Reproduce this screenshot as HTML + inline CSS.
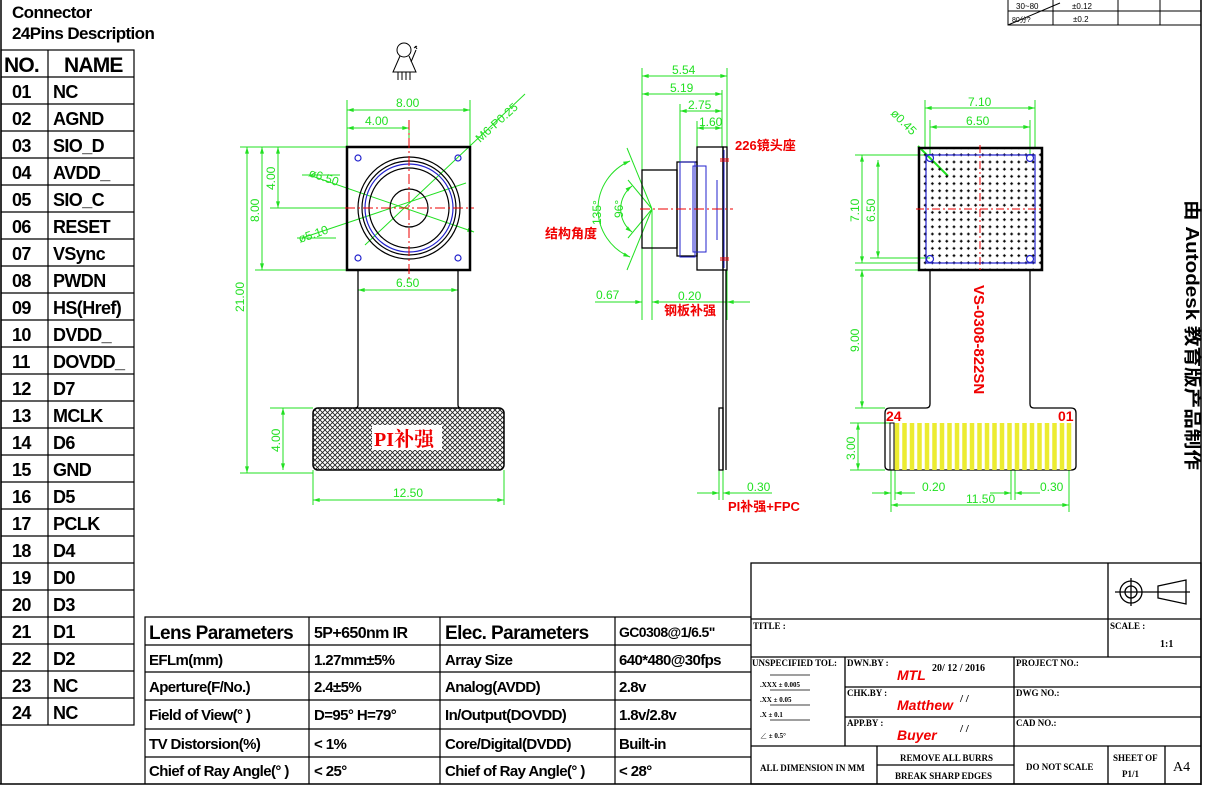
<!DOCTYPE html>
<html><head><meta charset="utf-8"><style>
html,body{margin:0;padding:0;background:#fff;}
svg{display:block;}
.t{font-family:"Liberation Sans","Noto Sans CJK SC",sans-serif;font-weight:bold;fill:#000;}
.g{font-family:"Liberation Sans",sans-serif;fill:#22e022;font-size:12px;}
.r{font-family:"Liberation Sans","Noto Sans CJK SC",sans-serif;font-weight:bold;fill:#f00000;}
.s{font-family:"Liberation Serif","Noto Serif CJK SC",serif;fill:#000;font-weight:bold;}
</style></head><body>
<svg width="1207" height="793" viewBox="0 0 1207 793" xmlns="http://www.w3.org/2000/svg">
<defs>
<marker id="a" viewBox="0 0 10 6" refX="10" refY="3" markerWidth="10" markerHeight="4" orient="auto-start-reverse"><path d="M0,0 L10,3 L0,6 z" fill="#22e022"/></marker>
<pattern id="dots" width="7.2" height="7.2" patternUnits="userSpaceOnUse"><path d="M3.6,2.2V5 M2.2,3.6H5" stroke="#000" stroke-width="1.1"/></pattern>
<pattern id="hatch" width="5" height="5" patternUnits="userSpaceOnUse"><path d="M0,0 L5,5 M5,0 L0,5" stroke="#222" stroke-width="0.9"/></pattern>
</defs>

<line x1="1201" y1="0" x2="1201" y2="785" stroke="#000" stroke-width="1.5"/>
<line x1="0" y1="784" x2="1201" y2="784" stroke="#000" stroke-width="1.5"/>
<line x1="1" y1="0" x2="1" y2="784" stroke="#000" stroke-width="1.5"/>

<g stroke="#000" stroke-width="1" fill="none">
<path d="M1008,0 V25 H1201 M1008,11 H1201 M1053,0 V25 M1118,0 V25 M1160,0 V25"/>
<line x1="1008" y1="25" x2="1060" y2="3"/>
</g>
<text x="1016" y="9" style="font:8px 'Liberation Sans',sans-serif">30~80</text>
<text x="1072" y="9" style="font:8px 'Liberation Sans',sans-serif">±0.12</text>
<text x="1012" y="22" style="font:7px 'Liberation Sans',sans-serif">80分?</text>
<text x="1073" y="22" style="font:8px 'Liberation Sans',sans-serif">±0.2</text>

<text class="t" x="12" y="18" font-size="17" letter-spacing="-0.6">Connector</text>
<text class="t" x="12" y="39" font-size="17" letter-spacing="-0.6">24Pins Description</text>
<g stroke="#000" stroke-width="1.2" fill="none">
<rect x="1" y="50" width="133" height="675"/>
<line x1="48" y1="50" x2="48" y2="725"/>
<path d="M1,77H134 M1,104H134 M1,131H134 M1,158H134 M1,185H134 M1,212H134 M1,239H134 M1,266H134 M1,293H134 M1,320H134 M1,347H134 M1,374H134 M1,401H134 M1,428H134 M1,455H134 M1,482H134 M1,509H134 M1,536H134 M1,563H134 M1,590H134 M1,617H134 M1,644H134 M1,671H134 M1,698H134"/>
</g>
<text class="t" x="4" y="72" font-size="21" letter-spacing="-0.8">NO.</text>
<text class="t" x="64" y="72" font-size="21" letter-spacing="-0.8">NAME</text>
<g class="t" font-size="18" letter-spacing="-0.6">
<text x="12" y="98">01</text><text x="53" y="98">NC</text>
<text x="12" y="125">02</text><text x="53" y="125">AGND</text>
<text x="12" y="152">03</text><text x="53" y="152">SIO_D</text>
<text x="12" y="179">04</text><text x="53" y="179">AVDD_</text>
<text x="12" y="206">05</text><text x="53" y="206">SIO_C</text>
<text x="12" y="233">06</text><text x="53" y="233">RESET</text>
<text x="12" y="260">07</text><text x="53" y="260">VSync</text>
<text x="12" y="287">08</text><text x="53" y="287">PWDN</text>
<text x="12" y="314">09</text><text x="53" y="314">HS(Href)</text>
<text x="12" y="341">10</text><text x="53" y="341">DVDD_</text>
<text x="12" y="368">11</text><text x="53" y="368">DOVDD_</text>
<text x="12" y="395">12</text><text x="53" y="395">D7</text>
<text x="12" y="422">13</text><text x="53" y="422">MCLK</text>
<text x="12" y="449">14</text><text x="53" y="449">D6</text>
<text x="12" y="476">15</text><text x="53" y="476">GND</text>
<text x="12" y="503">16</text><text x="53" y="503">D5</text>
<text x="12" y="530">17</text><text x="53" y="530">PCLK</text>
<text x="12" y="557">18</text><text x="53" y="557">D4</text>
<text x="12" y="584">19</text><text x="53" y="584">D0</text>
<text x="12" y="611">20</text><text x="53" y="611">D3</text>
<text x="12" y="638">21</text><text x="53" y="638">D1</text>
<text x="12" y="665">22</text><text x="53" y="665">D2</text>
<text x="12" y="692">23</text><text x="53" y="692">NC</text>
<text x="12" y="719">24</text><text x="53" y="719">NC</text>
</g>

<g stroke="#000" stroke-width="1.2" fill="none">
<path d="M145,784 V617 H751 M145,645H751 M145,672H751 M145,700H751 M145,729H751 M145,757H751 M309,617V784 M440,617V784 M615,617V784"/>
</g>
<g class="t" letter-spacing="-0.6">
<text x="149" y="639" font-size="19">Lens Parameters</text>
<text x="314" y="638" font-size="16">5P+650nm IR</text>
<text x="445" y="639" font-size="19">Elec. Parameters</text>
<text x="619" y="637" font-size="14">GC0308@1/6.5"</text>
<g font-size="15">
<text x="149" y="665">EFLm(mm)</text><text x="314" y="665">1.27mm±5%</text><text x="445" y="665">Array Size</text><text x="619" y="665">640*480@30fps</text>
<text x="149" y="692">Aperture(F/No.)</text><text x="314" y="692">2.4±5%</text><text x="445" y="692">Analog(AVDD)</text><text x="619" y="692">2.8v</text>
<text x="149" y="720">Field of View(° )</text><text x="314" y="720">D=95° H=79°</text><text x="445" y="720">In/Output(DOVDD)</text><text x="619" y="720">1.8v/2.8v</text>
<text x="149" y="749">TV Distorsion(%)</text><text x="314" y="749">&lt; 1%</text><text x="445" y="749">Core/Digital(DVDD)</text><text x="619" y="749">Built-in</text>
<text x="149" y="776">Chief of Ray Angle(° )</text><text x="314" y="776">&lt; 25°</text><text x="445" y="776">Chief of Ray Angle(° )</text><text x="619" y="776">&lt; 28°</text>
</g></g>

<g stroke="#000" stroke-width="1.3" fill="none">
<rect x="751" y="563" width="450" height="221"/>
<path d="M751,619H1201 M751,657H1201 M1108,563V657 M751,746H1201 M845,657V746 M1014,657V784 M845,687H1201 M845,717H1201 M877,746V784 M877,765H1014 M1108,746V784 M1165,746V784"/>
<path d="M770,675H810 M770,690H810 M770,705H810 M770,720H810" stroke-width="0.8"/>
<circle cx="1131" cy="592" r="11"/><circle cx="1131" cy="592" r="6"/>
<path d="M1115,592H1190 M1131,578V606 M1158,586 L1186,580 V604 L1158,598 Z"/>
</g>
<g class="s" font-size="9">
<text x="753" y="629">TITLE :</text>
<text x="1110" y="629">SCALE :</text>
<text x="1160" y="647" font-size="10">1:1</text>
<text x="752" y="666">UNSPECIFIED  TOL:</text>
<text x="847" y="666">DWN.BY :</text>
<text x="1016" y="666">PROJECT NO.:</text>
<text x="847" y="696">CHK.BY :</text>
<text x="1016" y="696">DWG  NO.:</text>
<text x="847" y="726">APP.BY :</text>
<text x="1016" y="726">CAD  NO.:</text>
<text x="760" y="687" font-size="7">.XXX  ±   0.005</text>
<text x="760" y="702" font-size="7">.XX   ±   0.05</text>
<text x="760" y="717" font-size="7">.X    ±   0.1</text>
<text x="760" y="738" font-size="7">∠    ±   0.5°</text>
<text x="932" y="671" font-size="10">20/ 12 / 2016</text>
<text x="960" y="702" font-size="11">/   /</text>
<text x="960" y="732" font-size="11">/   /</text>
<text x="760" y="771">ALL DIMENSION IN MM</text>
<text x="900" y="761">REMOVE ALL BURRS</text>
<text x="895" y="779">BREAK SHARP EDGES</text>
<text x="1026" y="770">DO NOT SCALE</text>
<text x="1113" y="761">SHEET OF</text>
<text x="1122" y="777">P1/1</text>
<text x="1173" y="771" font-size="14" font-weight="normal">A4</text>
</g>
<g class="r" font-style="italic" font-size="14">
<text x="897" y="680">MTL</text>
<text x="897" y="710">Matthew</text>
<text x="897" y="740">Buyer</text>
</g>

<text class="t" font-size="18" textLength="270" lengthAdjust="spacingAndGlyphs" transform="translate(1186,200) rotate(90)">由 Autodesk 教育版产品制作</text>

<g stroke="#000" fill="none" stroke-width="1">
<circle cx="404" cy="50" r="7"/>
<path d="M400,56 L393,72 H416 L409,56 M398,72V80 M402,72V80 M406,72V80 M410,72V80 M411,62 L416,50 M414,48 l3,-2 M417,49 l-2,-3"/>
</g>

<!-- FRONT VIEW -->
<g stroke="#22e022" stroke-width="1" fill="none">
<path d="M347,147V100 M470,147V100 M409,128V147"/>
<line x1="347" y1="110" x2="470" y2="110" marker-start="url(#a)" marker-end="url(#a)"/>
<line x1="347" y1="128" x2="409" y2="128" marker-start="url(#a)" marker-end="url(#a)"/>
<path d="M240,147H347 M255,270H347 M270,208H347 M240,473H313"/>
<line x1="247" y1="147" x2="247" y2="473" marker-start="url(#a)" marker-end="url(#a)"/>
<line x1="262" y1="147" x2="262" y2="270" marker-start="url(#a)" marker-end="url(#a)"/>
<line x1="278" y1="147" x2="278" y2="208" marker-start="url(#a)" marker-end="url(#a)"/>
<path d="M358,270V300 M458,270V300"/>
<line x1="358" y1="290" x2="458" y2="290" marker-start="url(#a)" marker-end="url(#a)"/>
<path d="M270,408H313"/>
<line x1="283" y1="408" x2="283" y2="470" marker-start="url(#a)" marker-end="url(#a)"/>
<path d="M313,470V505 M504,470V505"/>
<line x1="313" y1="500" x2="504" y2="500" marker-start="url(#a)" marker-end="url(#a)"/>
<line x1="309" y1="175" x2="474" y2="232" marker-end="url(#a)"/>
<line x1="302" y1="238" x2="466" y2="183"/>
<line x1="365" y1="245" x2="525" y2="94"/>
<path d="M302,175H340 M297,238H336"/>
</g>
<g class="g">
<text x="396" y="107">8.00</text>
<text x="365" y="125">4.00</text>
<text x="396" y="287">6.50</text>
<text x="393" y="497">12.50</text>
<text transform="translate(244,312) rotate(-90)">21.00</text>
<text transform="translate(259,222) rotate(-90)">8.00</text>
<text transform="translate(275,190) rotate(-90)">4.00</text>
<text transform="translate(280,452) rotate(-90)">4.00</text>
<text transform="translate(308,176) rotate(19)">ø6.50</text>
<text transform="translate(300,243) rotate(-19)">ø5.10</text>
<text transform="translate(480,143) rotate(-42)">M6-P0.25</text>
</g>
<rect x="347" y="147" width="123" height="123" fill="none" stroke="#000" stroke-width="2.5"/>
<g fill="none" stroke="#000" stroke-width="1.2">
<circle cx="409" cy="208" r="51"/><circle cx="409" cy="208" r="47"/><circle cx="409" cy="208" r="40"/><circle cx="409" cy="208" r="19"/>
</g>
<g fill="none" stroke="#2222cc" stroke-width="1.2">
<circle cx="409" cy="208" r="44"/>
<circle cx="358" cy="158" r="3"/><circle cx="458" cy="158" r="3"/><circle cx="358" cy="258" r="3"/><circle cx="458" cy="258" r="3"/>
</g>
<g stroke="#e00" stroke-width="1" stroke-dasharray="10,3,2,3"><path d="M345,208H474 M409,120V282"/></g>
<path d="M358,270V405 Q358,408 355,408 M458,270V405 Q458,408 461,408" fill="none" stroke="#000" stroke-width="1.3"/>
<rect x="313" y="408" width="191" height="62" rx="5" fill="url(#hatch)" stroke="#000" stroke-width="1.5"/>
<rect x="372" y="425" width="70" height="25" fill="#fff"/>
<text x="374" y="446" font-family="'Liberation Serif','Noto Serif CJK SC',serif" font-weight="bold" font-size="20" fill="#f00000">PI补强</text>

<!-- SIDE VIEW -->
<g stroke="#22e022" stroke-width="1" fill="none">
<path d="M642,68V320 M727,68V320 M722,90V147 M680,104V163 M697,121V147 M652,209V320 M719,470V500 M723,470V500"/>
<line x1="642" y1="76" x2="727" y2="76" marker-start="url(#a)" marker-end="url(#a)"/>
<line x1="642" y1="94" x2="722" y2="94" marker-start="url(#a)" marker-end="url(#a)"/>
<line x1="680" y1="111" x2="722" y2="111" marker-start="url(#a)" marker-end="url(#a)"/>
<line x1="697" y1="128" x2="722" y2="128" marker-start="url(#a)" marker-end="url(#a)"/>
<line x1="595" y1="302" x2="642" y2="302" marker-end="url(#a)"/>
<line x1="680" y1="302" x2="652" y2="302" marker-end="url(#a)"/>
<line x1="652" y1="302" x2="727" y2="302"/>
<line x1="750" y1="302" x2="727" y2="302" marker-end="url(#a)"/>
<line x1="697" y1="493" x2="719" y2="493" marker-end="url(#a)"/>
<line x1="772" y1="493" x2="723" y2="493" marker-end="url(#a)"/>
<path d="M652,209 L627,148 M652,209 L627,270 M652,209 L628,180 M652,209 L628,238"/>
<path d="M630,161 A52,52 0 0 0 630,257" marker-start="url(#a)" marker-end="url(#a)"/>
<path d="M632,186 A29,29 0 0 0 632,232" marker-start="url(#a)" marker-end="url(#a)"/>
</g>
<g class="g">
<text x="672" y="74">5.54</text>
<text x="670" y="92">5.19</text>
<text x="688" y="109">2.75</text>
<text x="699" y="126">1.60</text>
<text x="596" y="299">0.67</text>
<text x="678" y="300">0.20</text>
<text x="747" y="491">0.30</text>
<text transform="translate(601,225) rotate(-90)">135°</text>
<text transform="translate(623,218) rotate(-90)">96°</text>
</g>
<g fill="none" stroke="#000" stroke-width="1.3">
<rect x="642" y="170" width="35" height="78"/>
<rect x="677" y="162" width="20" height="94"/>
<rect x="697" y="147" width="26" height="123"/>
<rect x="723" y="147" width="4" height="123"/>
<path d="M723,270V470 M726,270V470"/>
<rect x="719" y="408" width="4" height="62"/>
</g>
<g fill="none" stroke="#2222cc" stroke-width="1"><rect x="680" y="162" width="15" height="95"/><rect x="693" y="166" width="13" height="86"/><path d="M717,180V240 M724,150V268"/></g>
<g stroke="#e00" stroke-width="1" stroke-dasharray="10,3,2,3"><path d="M640,209H733"/></g>
<path d="M720,159h9 M720,161h9 M720,258h9 M720,260h9" stroke="#e00" stroke-width="1"/>
<text class="r" x="735" y="150" font-size="13">226镜头座</text>
<text class="r" x="545" y="238" font-size="13">结构角度</text>
<text class="r" x="664" y="315" font-size="13">钢板补强</text>
<text class="r" x="728" y="511" font-size="13">PI补强+FPC</text>

<!-- RIGHT VIEW -->
<g stroke="#22e022" stroke-width="1" fill="none">
<path d="M925,100V148 M1035,100V148 M930,120V155 M1030,120V155"/>
<line x1="925" y1="108" x2="1035" y2="108" marker-start="url(#a)" marker-end="url(#a)"/>
<line x1="930" y1="127" x2="1030" y2="127" marker-start="url(#a)" marker-end="url(#a)"/>
<path d="M855,155H926 M870,258H930 M855,263H919 M855,270H919 M855,408H885 M850,423H890 M850,470H885"/>
<line x1="862" y1="155" x2="862" y2="263" marker-start="url(#a)" marker-end="url(#a)"/>
<line x1="878" y1="160" x2="878" y2="258" marker-start="url(#a)" marker-end="url(#a)"/>
<line x1="862" y1="270" x2="862" y2="408" marker-start="url(#a)" marker-end="url(#a)"/>
<line x1="858" y1="423" x2="858" y2="470" marker-start="url(#a)" marker-end="url(#a)"/>
<path d="M891,470V512 M895,470V500 M1011,470V500 M1015,470V500 M1069,470V512"/>
<line x1="872" y1="493" x2="891" y2="493" marker-end="url(#a)"/>
<line x1="915" y1="493" x2="895" y2="493" marker-end="url(#a)"/>
<line x1="990" y1="493" x2="1011" y2="493" marker-end="url(#a)"/>
<line x1="1040" y1="493" x2="1015" y2="493" marker-end="url(#a)"/>
<line x1="891" y1="505" x2="1069" y2="505" marker-start="url(#a)" marker-end="url(#a)"/>
<line x1="918" y1="146" x2="948" y2="176" stroke-width="2"/>
</g>
<g class="g">
<text x="968" y="106">7.10</text>
<text x="966" y="125">6.50</text>
<text x="922" y="491">0.20</text>
<text x="1040" y="491">0.30</text>
<text x="966" y="503">11.50</text>
<text transform="translate(859,222) rotate(-90)">7.10</text>
<text transform="translate(875,222) rotate(-90)">6.50</text>
<text transform="translate(859,352) rotate(-90)">9.00</text>
<text transform="translate(855,460) rotate(-90)">3.00</text>
<text transform="translate(890,114) rotate(45)">ø0.45</text>
</g>
<rect x="919" y="148" width="123" height="122" fill="url(#dots)" stroke="#000" stroke-width="2.5"/>
<rect x="926" y="155" width="109" height="108" fill="none" stroke="#2222cc" stroke-width="1.2"/>
<g fill="none" stroke="#2222cc" stroke-width="1.2"><circle cx="930" cy="158" r="3.5"/><circle cx="1030" cy="158" r="3.5"/><circle cx="930" cy="259" r="3.5"/><circle cx="1030" cy="259" r="3.5"/></g>
<g stroke="#e00" stroke-width="1" stroke-dasharray="8,3,2,3"><path d="M916,209H1044 M980,145V272"/></g>
<path d="M930,270V404 Q930,408 926,408 H890 Q885,408 885,413 V466 Q885,470 890,470 H1071 Q1076,470 1076,466 V413 Q1076,408 1071,408 H1034 Q1030,408 1030,404 V270" fill="none" stroke="#000" stroke-width="1.3"/>
<rect x="890" y="423" width="4" height="47" fill="none" stroke="#000"/>
<g stroke="#ecec30" stroke-width="4.5">
<path d="M897,423V470 M904.5,423V470 M912,423V470 M919.5,423V470 M927,423V470 M934.5,423V470 M942,423V470 M949.5,423V470 M957,423V470 M964.5,423V470 M972,423V470 M979.5,423V470 M987,423V470 M994.5,423V470 M1002,423V470 M1009.5,423V470 M1017,423V470 M1024.5,423V470 M1032,423V470 M1039.5,423V470 M1047,423V470 M1054.5,423V470 M1062,423V470 M1069,423V470"/>
</g>
<text class="r" x="886" y="421" font-size="14">24</text>
<text class="r" x="1058" y="421" font-size="14">01</text>
<text class="r" font-size="15" transform="translate(974,285) rotate(90)">VS-0308-822SN</text>
</svg>
</body></html>
